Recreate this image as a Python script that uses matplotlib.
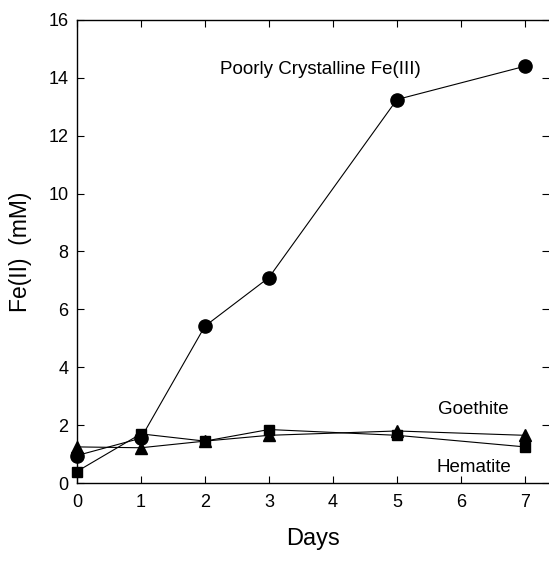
import matplotlib
matplotlib.use("Agg")
import matplotlib.pyplot as plt

plt.rcParams['font.family'] = ['Liberation Sans', 'DejaVu Sans']

days = [0, 1, 2, 3, 5, 7]
poorly = [0.95, 1.55, 5.42, 7.1, 13.25, 14.4]
goethite = [1.25, 1.22, 1.45, 1.65, 1.8, 1.65]
hematite = [0.4, 1.7, 1.45, 1.85, 1.65, 1.25]

fig = plt.figure(figsize=(5.49, 5.69), dpi=100)
ax = fig.add_axes([0.140, 0.151, 0.860, 0.814])

ax.plot(days, goethite, color='black', lw=0.8, marker='^', ms=9, clip_on=False, zorder=3)
ax.plot(days, hematite, color='black', lw=0.8, marker='s', ms=7.5, clip_on=False, zorder=3)
ax.plot(days, poorly, color='black', lw=0.8, marker='o', ms=9.5, clip_on=False, zorder=4)

ax.set_xlim(0, 7.375)
ax.set_ylim(0, 16)
ax.set_xticks(range(8))
ax.set_yticks(range(0, 17, 2))
ax.tick_params(direction='in', top=True, right=True, labelsize=13, length=5)
ax.tick_params(axis='x', pad=8)
ax.tick_params(axis='y', pad=6)
ax.spines['right'].set_visible(False)
for s in ['left', 'bottom', 'top']:
    ax.spines[s].set_linewidth(1.0)

ax.set_xlabel('Days', fontsize=17, labelpad=12)
ax.set_ylabel('Fe(II)  (mM)', fontsize=16.5, labelpad=12)

ax.text(3.8, 14.3, 'Poorly Crystalline Fe(III)', fontsize=13.5, ha='center', va='center')
ax.text(6.2, 2.55, 'Goethite', fontsize=13.5, ha='center', va='center')
ax.text(6.2, 0.55, 'Hematite', fontsize=13.5, ha='center', va='center')

fig.savefig('out.png', dpi=100)
